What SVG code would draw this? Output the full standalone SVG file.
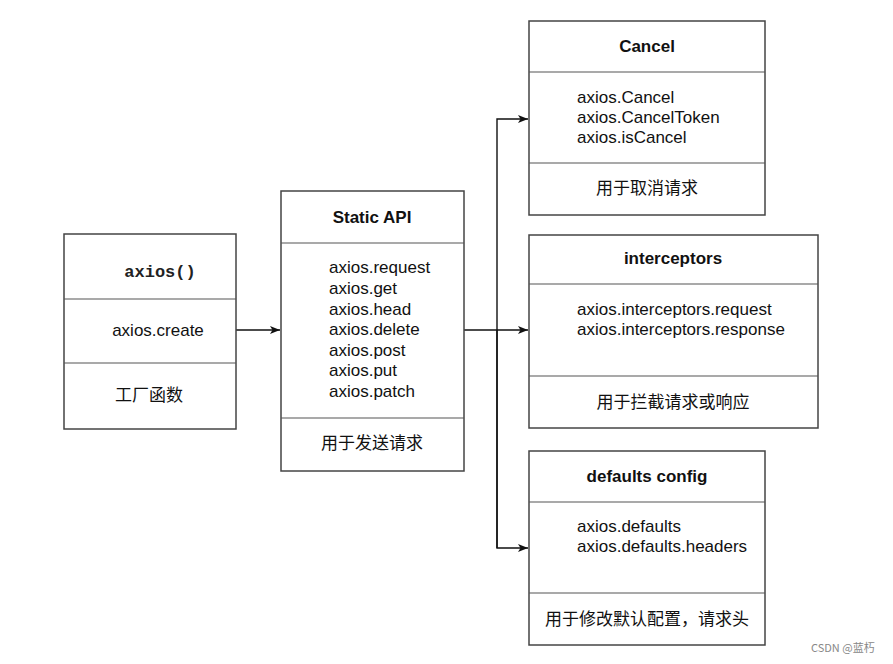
<svg xmlns="http://www.w3.org/2000/svg" width="893" height="664" viewBox="0 0 893 664">
<defs>
<marker id="arr" viewBox="0 0 10 10" refX="10" refY="5" markerWidth="10" markerHeight="10" markerUnits="userSpaceOnUse" orient="auto">
<path d="M0,1 L10,5 L0,9 L2.5,5 Z" fill="#111"/>
</marker>
</defs>
<style>
.box{fill:#fff;stroke:#444;stroke-width:1.5}
.div{stroke:#555;stroke-width:1.2;fill:none}
.t{font-family:"Liberation Sans","Noto Sans CJK SC",Arial,sans-serif;font-size:17px;fill:#111}
.b{font-weight:bold}
.c{text-anchor:middle}
.mono{font-family:"Liberation Mono","Courier New",monospace;font-weight:bold;font-size:17px;fill:#222}
.conn{stroke:#111;stroke-width:1.4;fill:none}
.wm{font-family:"Noto Sans CJK SC","Liberation Sans",sans-serif;font-size:11px;fill:#888}
</style>
<rect width="893" height="664" fill="#fff"/>

<g id="connectors">
<path class="conn" d="M236,330 H280" marker-end="url(#arr)"/>
<path class="conn" d="M464,330 H528" marker-end="url(#arr)"/>
<path class="conn" d="M497,548 V119 H528" marker-end="url(#arr)"/>
<path class="conn" d="M497,330 V548 H528" marker-end="url(#arr)"/>
</g>

<g id="axios">
<rect class="box" x="64" y="234" width="172" height="195"/>
<line class="div" x1="64" y1="299" x2="236" y2="299"/>
<line class="div" x1="64" y1="363" x2="236" y2="363"/>
<text class="mono c" x="160" y="277">axios()</text>
<text class="t c" x="158" y="336">axios.create</text>
<text class="t c" x="149" y="401">工厂函数</text>
</g>

<g id="static-api">
<rect class="box" x="281" y="191" width="183" height="280"/>
<line class="div" x1="281" y1="243" x2="464" y2="243"/>
<line class="div" x1="281" y1="418" x2="464" y2="418"/>
<text class="t b c" x="372" y="223">Static API</text>
<text class="t" x="329" y="273">axios.request</text>
<text class="t" x="329" y="294">axios.get</text>
<text class="t" x="329" y="314.5">axios.head</text>
<text class="t" x="329" y="335">axios.delete</text>
<text class="t" x="329" y="355.5">axios.post</text>
<text class="t" x="329" y="376">axios.put</text>
<text class="t" x="329" y="396.5">axios.patch</text>
<text class="t c" x="372" y="449">用于发送请求</text>
</g>

<g id="cancel">
<rect class="box" x="529" y="21" width="236" height="194"/>
<line class="div" x1="529" y1="72" x2="765" y2="72"/>
<line class="div" x1="529" y1="163" x2="765" y2="163"/>
<text class="t b c" x="647" y="52">Cancel</text>
<text class="t" x="577" y="103">axios.Cancel</text>
<text class="t" x="577" y="123">axios.CancelToken</text>
<text class="t" x="577" y="143">axios.isCancel</text>
<text class="t c" x="647" y="194">用于取消请求</text>
</g>

<g id="interceptors">
<rect class="box" x="529" y="235" width="289" height="193"/>
<line class="div" x1="529" y1="284" x2="818" y2="284"/>
<line class="div" x1="529" y1="376" x2="818" y2="376"/>
<text class="t b c" x="673" y="264">interceptors</text>
<text class="t" x="577" y="315">axios.interceptors.request</text>
<text class="t" x="577" y="335">axios.interceptors.response</text>
<text class="t c" x="673" y="408">用于拦截请求或响应</text>
</g>

<g id="defaults-config">
<rect class="box" x="529" y="451" width="236" height="194"/>
<line class="div" x1="529" y1="502" x2="765" y2="502"/>
<line class="div" x1="529" y1="593" x2="765" y2="593"/>
<text class="t b c" x="647" y="482">defaults config</text>
<text class="t" x="577" y="532">axios.defaults</text>
<text class="t" x="577" y="552">axios.defaults.headers</text>
<text class="t c" x="647" y="625">用于修改默认配置，请求头</text>
</g>

<text class="wm" x="811" y="652">CSDN @蓝朽</text>
</svg>
